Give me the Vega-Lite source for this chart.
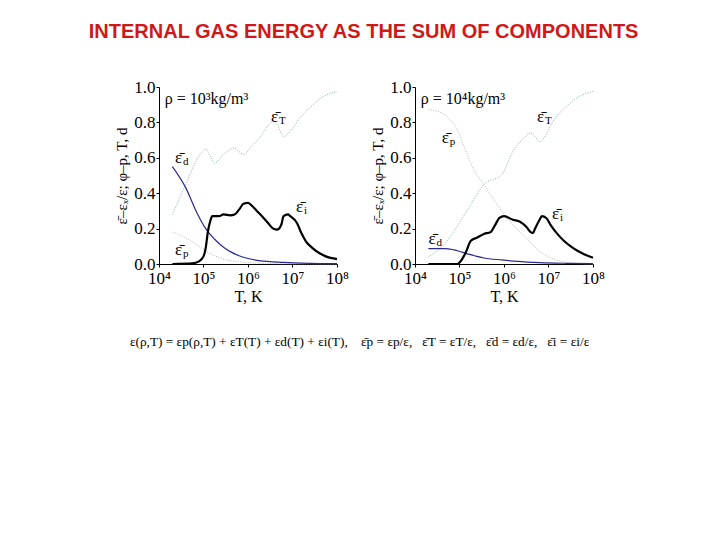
{
  "$schema": "https://vega.github.io/schema/vega-lite/v6.json",
  "background": "white",
  "padding": {"left": 88, "top": 22, "right": 5, "bottom": 5},
  "config": {
    "view": {"stroke": null},
    "font": "Liberation Serif",
    "axis": {
      "grid": false,
      "domainColor": "#000000",
      "tickColor": "#000000",
      "labelColor": "#000000",
      "titleColor": "#000000",
      "labelFont": "Liberation Serif",
      "titleFont": "Liberation Serif",
      "titleFontWeight": "normal",
      "labelOverlap": false,
      "tickSize": 3
    }
  },
  "title": {
    "text": "INTERNAL GAS ENERGY AS THE SUM OF COMPONENTS",
    "color": "#d01818",
    "font": "Liberation Sans",
    "fontSize": 20,
    "fontWeight": "bold",
    "anchor": "middle",
    "dx": 4,
    "offset": 36
  },
  "datasets": {
    "curves": [
      {"panel": 1, "s": "T", "T": 2.0e4, "v": 0.28},
      {"panel": 1, "s": "T", "T": 4.0e4, "v": 0.45},
      {"panel": 1, "s": "T", "T": 7.1e4, "v": 0.59},
      {"panel": 1, "s": "T", "T": 1.0e5, "v": 0.64},
      {"panel": 1, "s": "T", "T": 1.12e5, "v": 0.65},
      {"panel": 1, "s": "T", "T": 1.41e5, "v": 0.61},
      {"panel": 1, "s": "T", "T": 1.78e5, "v": 0.57},
      {"panel": 1, "s": "T", "T": 2.82e5, "v": 0.62},
      {"panel": 1, "s": "T", "T": 5.0e5, "v": 0.655},
      {"panel": 1, "s": "T", "T": 6.3e5, "v": 0.635},
      {"panel": 1, "s": "T", "T": 7.9e5, "v": 0.62},
      {"panel": 1, "s": "T", "T": 1.26e6, "v": 0.67},
      {"panel": 1, "s": "T", "T": 1.78e6, "v": 0.71},
      {"panel": 1, "s": "T", "T": 2.82e6, "v": 0.78},
      {"panel": 1, "s": "T", "T": 3.55e6, "v": 0.805},
      {"panel": 1, "s": "T", "T": 4.47e6, "v": 0.79},
      {"panel": 1, "s": "T", "T": 6.3e6, "v": 0.72},
      {"panel": 1, "s": "T", "T": 8.9e6, "v": 0.75},
      {"panel": 1, "s": "T", "T": 1.41e7, "v": 0.82},
      {"panel": 1, "s": "T", "T": 2.51e7, "v": 0.885},
      {"panel": 1, "s": "T", "T": 5.0e7, "v": 0.947},
      {"panel": 1, "s": "T", "T": 1.0e8, "v": 0.975},

      {"panel": 1, "s": "d", "T": 2.0e4, "v": 0.55},
      {"panel": 1, "s": "d", "T": 4.0e4, "v": 0.43},
      {"panel": 1, "s": "d", "T": 7.1e4, "v": 0.29},
      {"panel": 1, "s": "d", "T": 1.12e5, "v": 0.2},
      {"panel": 1, "s": "d", "T": 1.78e5, "v": 0.14},
      {"panel": 1, "s": "d", "T": 2.82e5, "v": 0.095},
      {"panel": 1, "s": "d", "T": 4.0e5, "v": 0.07},
      {"panel": 1, "s": "d", "T": 7.9e5, "v": 0.038},
      {"panel": 1, "s": "d", "T": 1.78e6, "v": 0.019},
      {"panel": 1, "s": "d", "T": 6.3e6, "v": 0.009},
      {"panel": 1, "s": "d", "T": 2.51e7, "v": 0.004},
      {"panel": 1, "s": "d", "T": 1.0e8, "v": 0.002},

      {"panel": 1, "s": "p", "T": 2.0e4, "v": 0.18},
      {"panel": 1, "s": "p", "T": 4.0e4, "v": 0.147},
      {"panel": 1, "s": "p", "T": 7.9e4, "v": 0.1},
      {"panel": 1, "s": "p", "T": 1.58e5, "v": 0.053},
      {"panel": 1, "s": "p", "T": 3.16e5, "v": 0.024},
      {"panel": 1, "s": "p", "T": 7.9e5, "v": 0.011},
      {"panel": 1, "s": "p", "T": 3.98e6, "v": 0.002},
      {"panel": 1, "s": "p", "T": 1.0e8, "v": 0.0},

      {"panel": 1, "s": "i", "T": 2.0e4, "v": 0.0},
      {"panel": 1, "s": "i", "T": 5.6e4, "v": 0.003},
      {"panel": 1, "s": "i", "T": 7.9e4, "v": 0.015},
      {"panel": 1, "s": "i", "T": 1.0e5, "v": 0.043},
      {"panel": 1, "s": "i", "T": 1.12e5, "v": 0.09},
      {"panel": 1, "s": "i", "T": 1.26e5, "v": 0.185},
      {"panel": 1, "s": "i", "T": 1.41e5, "v": 0.24},
      {"panel": 1, "s": "i", "T": 1.58e5, "v": 0.27},
      {"panel": 1, "s": "i", "T": 2.24e5, "v": 0.27},
      {"panel": 1, "s": "i", "T": 2.82e5, "v": 0.28},
      {"panel": 1, "s": "i", "T": 3.98e5, "v": 0.275},
      {"panel": 1, "s": "i", "T": 5.0e5, "v": 0.28},
      {"panel": 1, "s": "i", "T": 6.3e5, "v": 0.307},
      {"panel": 1, "s": "i", "T": 7.9e5, "v": 0.34},
      {"panel": 1, "s": "i", "T": 1.0e6, "v": 0.345},
      {"panel": 1, "s": "i", "T": 1.26e6, "v": 0.326},
      {"panel": 1, "s": "i", "T": 1.58e6, "v": 0.3},
      {"panel": 1, "s": "i", "T": 2.24e6, "v": 0.26},
      {"panel": 1, "s": "i", "T": 2.82e6, "v": 0.232},
      {"panel": 1, "s": "i", "T": 3.55e6, "v": 0.203},
      {"panel": 1, "s": "i", "T": 4.47e6, "v": 0.194},
      {"panel": 1, "s": "i", "T": 5.6e6, "v": 0.222},
      {"panel": 1, "s": "i", "T": 6.3e6, "v": 0.27},
      {"panel": 1, "s": "i", "T": 7.9e6, "v": 0.28},
      {"panel": 1, "s": "i", "T": 8.9e6, "v": 0.27},
      {"panel": 1, "s": "i", "T": 1.26e7, "v": 0.232},
      {"panel": 1, "s": "i", "T": 1.58e7, "v": 0.175},
      {"panel": 1, "s": "i", "T": 2.0e7, "v": 0.128},
      {"panel": 1, "s": "i", "T": 2.82e7, "v": 0.09},
      {"panel": 1, "s": "i", "T": 3.98e7, "v": 0.062},
      {"panel": 1, "s": "i", "T": 5.6e7, "v": 0.043},
      {"panel": 1, "s": "i", "T": 1.0e8, "v": 0.028},

      {"panel": 2, "s": "T", "T": 2.0e4, "v": 0.04},
      {"panel": 2, "s": "T", "T": 4.47e4, "v": 0.11},
      {"panel": 2, "s": "T", "T": 8.9e4, "v": 0.213},
      {"panel": 2, "s": "T", "T": 1.78e5, "v": 0.335},
      {"panel": 2, "s": "T", "T": 3.55e5, "v": 0.45},
      {"panel": 2, "s": "T", "T": 8.9e5, "v": 0.505},
      {"panel": 2, "s": "T", "T": 1.58e6, "v": 0.636},
      {"panel": 2, "s": "T", "T": 2.82e6, "v": 0.712},
      {"panel": 2, "s": "T", "T": 3.98e6, "v": 0.74},
      {"panel": 2, "s": "T", "T": 5.0e6, "v": 0.72},
      {"panel": 2, "s": "T", "T": 6.3e6, "v": 0.69},
      {"panel": 2, "s": "T", "T": 7.9e6, "v": 0.712},
      {"panel": 2, "s": "T", "T": 1.26e7, "v": 0.806},
      {"panel": 2, "s": "T", "T": 2.51e7, "v": 0.89},
      {"panel": 2, "s": "T", "T": 5.0e7, "v": 0.947},
      {"panel": 2, "s": "T", "T": 1.0e8, "v": 0.975},

      {"panel": 2, "s": "p", "T": 2.0e4, "v": 0.872},
      {"panel": 2, "s": "p", "T": 4.0e4, "v": 0.853},
      {"panel": 2, "s": "p", "T": 6.3e4, "v": 0.814},
      {"panel": 2, "s": "p", "T": 8.9e4, "v": 0.76},
      {"panel": 2, "s": "p", "T": 1.26e5, "v": 0.665},
      {"panel": 2, "s": "p", "T": 2.0e5, "v": 0.542},
      {"panel": 2, "s": "p", "T": 3.55e5, "v": 0.448},
      {"panel": 2, "s": "p", "T": 5.6e5, "v": 0.373},
      {"panel": 2, "s": "p", "T": 8.9e5, "v": 0.298},
      {"panel": 2, "s": "p", "T": 1.58e6, "v": 0.222},
      {"panel": 2, "s": "p", "T": 3.16e6, "v": 0.147},
      {"panel": 2, "s": "p", "T": 6.3e6, "v": 0.072},
      {"panel": 2, "s": "p", "T": 1.26e7, "v": 0.03},
      {"panel": 2, "s": "p", "T": 3.55e7, "v": 0.006},
      {"panel": 2, "s": "p", "T": 1.0e8, "v": 0.0},

      {"panel": 2, "s": "d", "T": 2.0e4, "v": 0.087},
      {"panel": 2, "s": "d", "T": 5.0e4, "v": 0.087},
      {"panel": 2, "s": "d", "T": 8.9e4, "v": 0.075},
      {"panel": 2, "s": "d", "T": 1.58e5, "v": 0.056},
      {"panel": 2, "s": "d", "T": 3.55e5, "v": 0.034},
      {"panel": 2, "s": "d", "T": 8.9e5, "v": 0.023},
      {"panel": 2, "s": "d", "T": 2.0e6, "v": 0.015},
      {"panel": 2, "s": "d", "T": 6.3e6, "v": 0.008},
      {"panel": 2, "s": "d", "T": 2.51e7, "v": 0.004},
      {"panel": 2, "s": "d", "T": 1.0e8, "v": 0.002},

      {"panel": 2, "s": "i", "T": 2.0e4, "v": 0.0},
      {"panel": 2, "s": "i", "T": 8.9e4, "v": 0.0},
      {"panel": 2, "s": "i", "T": 1.12e5, "v": 0.024},
      {"panel": 2, "s": "i", "T": 1.41e5, "v": 0.07},
      {"panel": 2, "s": "i", "T": 1.78e5, "v": 0.13},
      {"panel": 2, "s": "i", "T": 2.51e5, "v": 0.15},
      {"panel": 2, "s": "i", "T": 3.55e5, "v": 0.17},
      {"panel": 2, "s": "i", "T": 5.0e5, "v": 0.18},
      {"panel": 2, "s": "i", "T": 6.3e5, "v": 0.22},
      {"panel": 2, "s": "i", "T": 7.9e5, "v": 0.26},
      {"panel": 2, "s": "i", "T": 1.0e6, "v": 0.27},
      {"panel": 2, "s": "i", "T": 1.58e6, "v": 0.25},
      {"panel": 2, "s": "i", "T": 2.24e6, "v": 0.24},
      {"panel": 2, "s": "i", "T": 3.16e6, "v": 0.21},
      {"panel": 2, "s": "i", "T": 3.98e6, "v": 0.18},
      {"panel": 2, "s": "i", "T": 4.47e6, "v": 0.175},
      {"panel": 2, "s": "i", "T": 5.0e6, "v": 0.2},
      {"panel": 2, "s": "i", "T": 6.3e6, "v": 0.25},
      {"panel": 2, "s": "i", "T": 7.1e6, "v": 0.27},
      {"panel": 2, "s": "i", "T": 8.9e6, "v": 0.26},
      {"panel": 2, "s": "i", "T": 1.12e7, "v": 0.22},
      {"panel": 2, "s": "i", "T": 1.58e7, "v": 0.17},
      {"panel": 2, "s": "i", "T": 2.24e7, "v": 0.13},
      {"panel": 2, "s": "i", "T": 3.16e7, "v": 0.1},
      {"panel": 2, "s": "i", "T": 4.47e7, "v": 0.075},
      {"panel": 2, "s": "i", "T": 6.3e7, "v": 0.055},
      {"panel": 2, "s": "i", "T": 1.0e8, "v": 0.035}
    ],
    "labels": [
      {"panel": 1, "T": 3.3e6, "v": 0.83, "sub": "T"},
      {"panel": 1, "T": 2.3e4, "v": 0.6, "sub": "d"},
      {"panel": 1, "T": 2.3e4, "v": 0.08, "sub": "p"},
      {"panel": 1, "T": 1.2e7, "v": 0.32, "sub": "i"},
      {"panel": 2, "T": 5.5e6, "v": 0.83, "sub": "T"},
      {"panel": 2, "T": 4.0e4, "v": 0.71, "sub": "p"},
      {"panel": 2, "T": 2.0e4, "v": 0.14, "sub": "d"},
      {"panel": 2, "T": 1.2e7, "v": 0.28, "sub": "i"}
    ],
    "density": [
      {"panel": 1, "T": 1.35e4, "v": 0.935, "txt": "ρ = 10³kg/m³"},
      {"panel": 2, "T": 1.35e4, "v": 0.935, "txt": "ρ = 10⁴kg/m³"}
    ]
  },
  "vconcat": [
    {
      "title": {
        "text": "ε(ρ,T) = εp(ρ,T) + εT(T) + εd(T) + εi(T),\u00a0\u00a0\u00a0 ε̄p = εp/ε,\u00a0\u00a0 ε̄T = εT/ε,\u00a0\u00a0 ε̄d = εd/ε,\u00a0\u00a0 ε̄i = εi/ε",
        "orient": "bottom",
        "anchor": "middle",
        "font": "Liberation Serif",
        "fontSize": 13.3,
        "fontWeight": "normal",
        "color": "#000000",
        "offset": 31
      },
      "spacing": 21,
      "hconcat": [
        {
          "width": 178,
          "height": 177,
          "layer": [
            {
              "data": {"name": "curves"},
              "transform": [{"filter": "datum.panel == 1 && datum.s == 'T'"}],
              "mark": {"type": "line", "interpolate": "monotone", "color": "#86b0a6", "strokeWidth": 1, "strokeDash": [1, 1.5]},
              "encoding": {
                "x": {"field": "T", "type": "quantitative", "scale": {"type": "log", "domain": [10000, 100000000]},
                  "axis": {"title": "T, K", "values": [10000, 100000, 1000000, 10000000, 100000000], "labelExpr": "'10' + ['⁴','⁵','⁶','⁷','⁸'][round(log(datum.value)/LN10) - 4]", "labelFontSize": 17, "titleFontSize": 16, "titlePadding": 2, "labelPadding": 3, "labelFlush": false, "labelOverlap": false}},
                "y": {"field": "v", "type": "quantitative", "scale": {"domain": [0, 1]},
                  "axis": {"title": "ε̄–εₓ/ε; φ–p, T, d", "values": [0, 0.2, 0.4, 0.6, 0.8, 1.0], "format": ".1f", "labelFontSize": 17, "titleFontSize": 15, "labelPadding": 1, "titlePadding": 4, "labelOverlap": false, "tickCount": 6}}
              }
            },
            {
              "data": {"name": "curves"},
              "transform": [{"filter": "datum.panel == 1 && datum.s == 'p'"}],
              "mark": {"type": "line", "interpolate": "monotone", "color": "#b5b5b5", "strokeWidth": 1, "strokeDash": [1, 1.5]},
              "encoding": {"x": {"field": "T", "type": "quantitative"}, "y": {"field": "v", "type": "quantitative"}}
            },
            {
              "data": {"name": "curves"},
              "transform": [{"filter": "datum.panel == 1 && datum.s == 'd'"}],
              "mark": {"type": "line", "interpolate": "monotone", "color": "#2a2a92", "strokeWidth": 1.2},
              "encoding": {"x": {"field": "T", "type": "quantitative"}, "y": {"field": "v", "type": "quantitative"}}
            },
            {
              "data": {"name": "curves"},
              "transform": [{"filter": "datum.panel == 1 && datum.s == 'i'"}],
              "mark": {"type": "line", "interpolate": "monotone", "color": "#000000", "strokeWidth": 2.2},
              "encoding": {"x": {"field": "T", "type": "quantitative"}, "y": {"field": "v", "type": "quantitative"}}
            },
            {
              "data": {"name": "labels"},
              "transform": [{"filter": "datum.panel == 1"}],
              "mark": {"type": "text", "text": "ε̄", "align": "left", "baseline": "middle", "fontSize": 17, "font": "Liberation Serif", "color": "#000000"},
              "encoding": {"x": {"field": "T", "type": "quantitative"}, "y": {"field": "v", "type": "quantitative"}}
            },
            {
              "data": {"name": "labels"},
              "transform": [{"filter": "datum.panel == 1"}],
              "mark": {"type": "text", "align": "left", "baseline": "middle", "dx": 8, "dy": 4, "fontSize": 11, "font": "Liberation Serif", "color": "#000000"},
              "encoding": {"x": {"field": "T", "type": "quantitative"}, "y": {"field": "v", "type": "quantitative"}, "text": {"field": "sub"}}
            },
            {
              "data": {"name": "density"},
              "transform": [{"filter": "datum.panel == 1"}],
              "mark": {"type": "text", "align": "left", "baseline": "middle", "fontSize": 16, "font": "Liberation Serif", "color": "#000000"},
              "encoding": {"x": {"field": "T", "type": "quantitative"}, "y": {"field": "v", "type": "quantitative"}, "text": {"field": "txt"}}
            }
          ]
        },
        {
          "width": 178,
          "height": 177,
          "layer": [
            {
              "data": {"name": "curves"},
              "transform": [{"filter": "datum.panel == 2 && datum.s == 'T'"}],
              "mark": {"type": "line", "interpolate": "monotone", "color": "#86b0a6", "strokeWidth": 1, "strokeDash": [1, 1.5]},
              "encoding": {
                "x": {"field": "T", "type": "quantitative", "scale": {"type": "log", "domain": [10000, 100000000]},
                  "axis": {"title": "T, K", "values": [10000, 100000, 1000000, 10000000, 100000000], "labelExpr": "'10' + ['⁴','⁵','⁶','⁷','⁸'][round(log(datum.value)/LN10) - 4]", "labelFontSize": 17, "titleFontSize": 16, "titlePadding": 2, "labelPadding": 3, "labelFlush": false, "labelOverlap": false}},
                "y": {"field": "v", "type": "quantitative", "scale": {"domain": [0, 1]},
                  "axis": {"title": "ε̄–εₓ/ε; φ–p, T, d", "values": [0, 0.2, 0.4, 0.6, 0.8, 1.0], "format": ".1f", "labelFontSize": 17, "titleFontSize": 15, "labelPadding": 1, "titlePadding": 4, "labelOverlap": false, "tickCount": 6}}
              }
            },
            {
              "data": {"name": "curves"},
              "transform": [{"filter": "datum.panel == 2 && datum.s == 'p'"}],
              "mark": {"type": "line", "interpolate": "monotone", "color": "#b5b5b5", "strokeWidth": 1, "strokeDash": [1, 1.5]},
              "encoding": {"x": {"field": "T", "type": "quantitative"}, "y": {"field": "v", "type": "quantitative"}}
            },
            {
              "data": {"name": "curves"},
              "transform": [{"filter": "datum.panel == 2 && datum.s == 'd'"}],
              "mark": {"type": "line", "interpolate": "monotone", "color": "#2a2a92", "strokeWidth": 1.2},
              "encoding": {"x": {"field": "T", "type": "quantitative"}, "y": {"field": "v", "type": "quantitative"}}
            },
            {
              "data": {"name": "curves"},
              "transform": [{"filter": "datum.panel == 2 && datum.s == 'i'"}],
              "mark": {"type": "line", "interpolate": "monotone", "color": "#000000", "strokeWidth": 2.2},
              "encoding": {"x": {"field": "T", "type": "quantitative"}, "y": {"field": "v", "type": "quantitative"}}
            },
            {
              "data": {"name": "labels"},
              "transform": [{"filter": "datum.panel == 2"}],
              "mark": {"type": "text", "text": "ε̄", "align": "left", "baseline": "middle", "fontSize": 17, "font": "Liberation Serif", "color": "#000000"},
              "encoding": {"x": {"field": "T", "type": "quantitative"}, "y": {"field": "v", "type": "quantitative"}}
            },
            {
              "data": {"name": "labels"},
              "transform": [{"filter": "datum.panel == 2"}],
              "mark": {"type": "text", "align": "left", "baseline": "middle", "dx": 8, "dy": 4, "fontSize": 11, "font": "Liberation Serif", "color": "#000000"},
              "encoding": {"x": {"field": "T", "type": "quantitative"}, "y": {"field": "v", "type": "quantitative"}, "text": {"field": "sub"}}
            },
            {
              "data": {"name": "density"},
              "transform": [{"filter": "datum.panel == 2"}],
              "mark": {"type": "text", "align": "left", "baseline": "middle", "fontSize": 16, "font": "Liberation Serif", "color": "#000000"},
              "encoding": {"x": {"field": "T", "type": "quantitative"}, "y": {"field": "v", "type": "quantitative"}, "text": {"field": "txt"}}
            }
          ]
        }
      ]
    }
  ]
}
